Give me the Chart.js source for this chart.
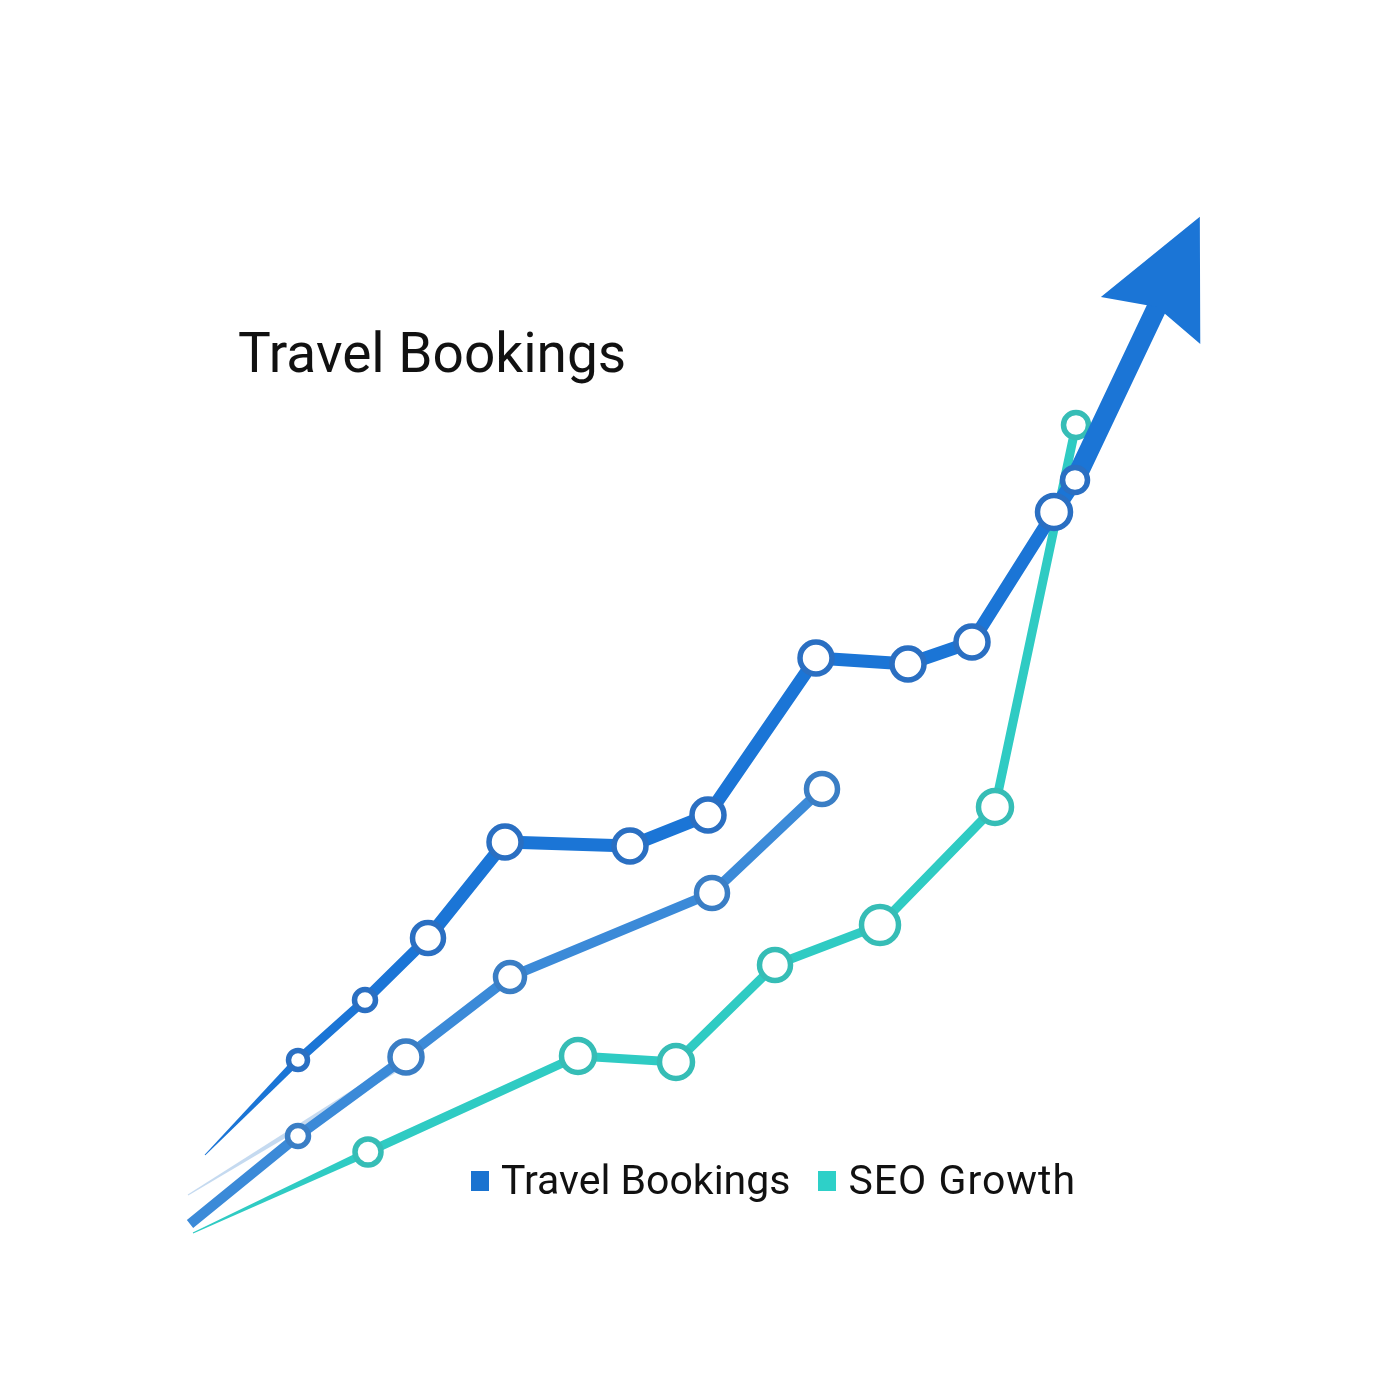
<!DOCTYPE html>
<html><head><meta charset="utf-8">
<script src="https://cdn.jsdelivr.net/npm/chart.js@4.4.1/dist/chart.umd.min.js"></script>
<style>
html,body{margin:0;padding:0;background:#fff;}
#wrap{position:relative;width:1400px;height:1400px;overflow:hidden;}
#c{position:absolute;left:0;top:0;}
#title{position:absolute;left:238px;top:326px;font:400 55px Roboto,sans-serif;line-height:1;color:#111;white-space:nowrap;}
#legend{position:absolute;left:471px;top:1160px;font:400 41px Roboto,sans-serif;line-height:1;color:#111;display:flex;align-items:center;white-space:nowrap;}
.sw{display:inline-block;width:18px;height:20px;margin-right:12px;}
.item{display:flex;align-items:center;margin-right:28px;}
.seo{letter-spacing:1px;}
</style></head>
<body>
<div id="wrap">
<canvas id="c" width="1400" height="1400"></canvas>
<div id="title">Travel Bookings</div>
<div id="legend">
  <span class="item"><span class="sw" style="background:#1a73d0"></span>Travel Bookings</span>
  <span class="item seo"><span class="sw" style="background:#2ed0c8"></span>SEO Growth</span>
</div>
</div>
<script>
// ---- data (arbitrary units) ----
const seriesNames = ['Travel Bookings', 'Bookings Trend', 'SEO Growth'];
const bookingsX = [1.5, 10.8, 17.5, 23.8, 31.5, 44.0, 51.8, 62.6, 71.8, 78.2, 86.4, 88.5, 96.7];
const bookingsY = [8.5, 18.0, 24.0, 30.2, 39.8, 39.4, 42.5, 58.2, 57.6, 59.8, 72.8, 76.0, 93.3];
const trendX = [0.0, 10.8, 21.6, 32.0, 52.2, 63.2];
const trendY = [1.6, 10.4, 18.3, 26.3, 34.7, 45.1];
const seoX = [0.3, 17.8, 38.8, 48.6, 58.5, 69.0, 80.5, 88.6];
const seoY = [0.7, 8.8, 18.4, 17.8, 27.5, 31.5, 43.3, 81.5];
const streakX = [-0.2, 20.5];
const streakY = [4.5, 17.2];

// ---- styles ----
const bookingsRadius = [0, 9.5, 10.5, 15.5, 16, 16, 16, 16, 16, 16, 16.5, 12.5, 0];
const bookingsSegW = [0, 9, 11, 13, 13, 13, 13, 13, 13, 13, 16, 20];
const trendRadius = [0, 10.5, 16, 14.5, 15.5, 15.5];
const seoRadius = [0, 13, 16.5, 16.5, 15.5, 18.5, 16.5, 12.5];

const pts = (xs, ys) => xs.map((x, i) => ({x, y: ys[i]}));
const CLEAR = 'rgba(0,0,0,0)';

const taperPlugin = {
  id: 'taper',
  beforeDatasetDraw(chart, args) {
    const ds = chart.data.datasets[args.index];
    if (!ds.taper) return;
    const el = args.meta.data;
    const a = el[0], b = el[1];
    const [w0, w1] = ds.taper;
    const dx = b.x - a.x, dy = b.y - a.y, len = Math.hypot(dx, dy);
    const nx = -dy / len, ny = dx / len;
    const ctx = chart.ctx;
    ctx.save();
    ctx.fillStyle = ds.taperColor || ds.borderColor;
    ctx.beginPath();
    ctx.moveTo(a.x + nx * w0 / 2, a.y + ny * w0 / 2);
    ctx.lineTo(b.x + nx * w1 / 2, b.y + ny * w1 / 2);
    ctx.lineTo(b.x - nx * w1 / 2, b.y - ny * w1 / 2);
    ctx.lineTo(a.x - nx * w0 / 2, a.y - ny * w0 / 2);
    ctx.closePath();
    ctx.fill();
    ctx.beginPath();
    ctx.arc(b.x, b.y, w1 / 2, 0, Math.PI * 2);
    ctx.fill();
    ctx.restore();
  }
};

const arrowPlugin = {
  id: 'arrowHead',
  afterDatasetDraw(chart, args) {
    const ds = chart.data.datasets[args.index];
    if (!ds.arrow) return;
    const el = args.meta.data, n = el.length;
    const a = el[n - 2], b = el[n - 1];
    const dx = b.x - a.x, dy = b.y - a.y, len = Math.hypot(dx, dy);
    const ux = dx / len, uy = dy / len, nx = -uy, ny = ux;
    const {length: L, back: B, half: H, color} = ds.arrow;
    const ctx = chart.ctx;
    ctx.save();
    ctx.fillStyle = color;
    ctx.beginPath();
    ctx.moveTo(b.x + ux * L, b.y + uy * L);
    ctx.lineTo(b.x - ux * B + nx * H, b.y - uy * B + ny * H);
    ctx.lineTo(b.x, b.y);
    ctx.lineTo(b.x - ux * B - nx * H, b.y - uy * B - ny * H);
    ctx.closePath();
    ctx.fill();
    ctx.restore();
  }
};

new Chart(document.getElementById('c'), {
  type: 'line',
  data: {
    datasets: [
      {
        label: seriesNames[0],
        data: pts(bookingsX, bookingsY),
        borderColor: '#1b75d6',
        borderWidth: 13,
        borderCapStyle: 'round',
        borderJoinStyle: 'round',
        pointRadius: bookingsRadius,
        pointBorderWidth: 5.5,
        pointBorderColor: '#2a6fc2',
        pointBackgroundColor: '#ffffff',
        taper: [1, 8],
        arrow: {length: 100, back: 15, half: 55, color: '#1b75d6'},
        segment: {
          borderColor: c => c.p0DataIndex === 0 ? CLEAR : undefined,
          borderWidth: c => bookingsSegW[c.p0DataIndex]
        },
        tension: 0
      },
      {
        label: seriesNames[1],
        data: pts(trendX, trendY),
        borderColor: '#3b8ad8',
        borderWidth: 10,
        borderCapStyle: 'butt',
        borderJoinStyle: 'round',
        pointRadius: trendRadius,
        pointBorderWidth: 5.5,
        pointBorderColor: '#3a7ec5',
        pointBackgroundColor: '#ffffff',
        tension: 0
      },
      {
        label: seriesNames[2],
        data: pts(seoX, seoY),
        borderColor: '#2fcbc3',
        borderWidth: 9,
        borderCapStyle: 'round',
        borderJoinStyle: 'round',
        pointRadius: seoRadius,
        pointBorderWidth: 5.5,
        pointBorderColor: '#36bdb6',
        pointBackgroundColor: '#ffffff',
        taper: [1, 8],
        segment: {
          borderColor: c => c.p0DataIndex === 0 ? CLEAR : undefined
        },
        tension: 0
      },
      {
        label: 'streak',
        data: pts(streakX, streakY),
        borderColor: CLEAR,
        borderWidth: 0,
        pointRadius: 0,
        taper: [1, 9],
        taperColor: 'rgba(150,188,228,0.55)',
        tension: 0
      }
    ]
  },
  options: {
    responsive: false,
    animation: false,
    devicePixelRatio: 1,
    events: [],
    layout: {padding: 0, autoPadding: false},
    plugins: {legend: {display: false}, tooltip: {enabled: false}, title: {display: false}},
    scales: {
      x: {type: 'linear', min: -19, max: 121, display: false},
      y: {type: 'linear', min: -16, max: 124, display: false}
    }
  },
  plugins: [taperPlugin, arrowPlugin]
});
</script>
</body></html>
